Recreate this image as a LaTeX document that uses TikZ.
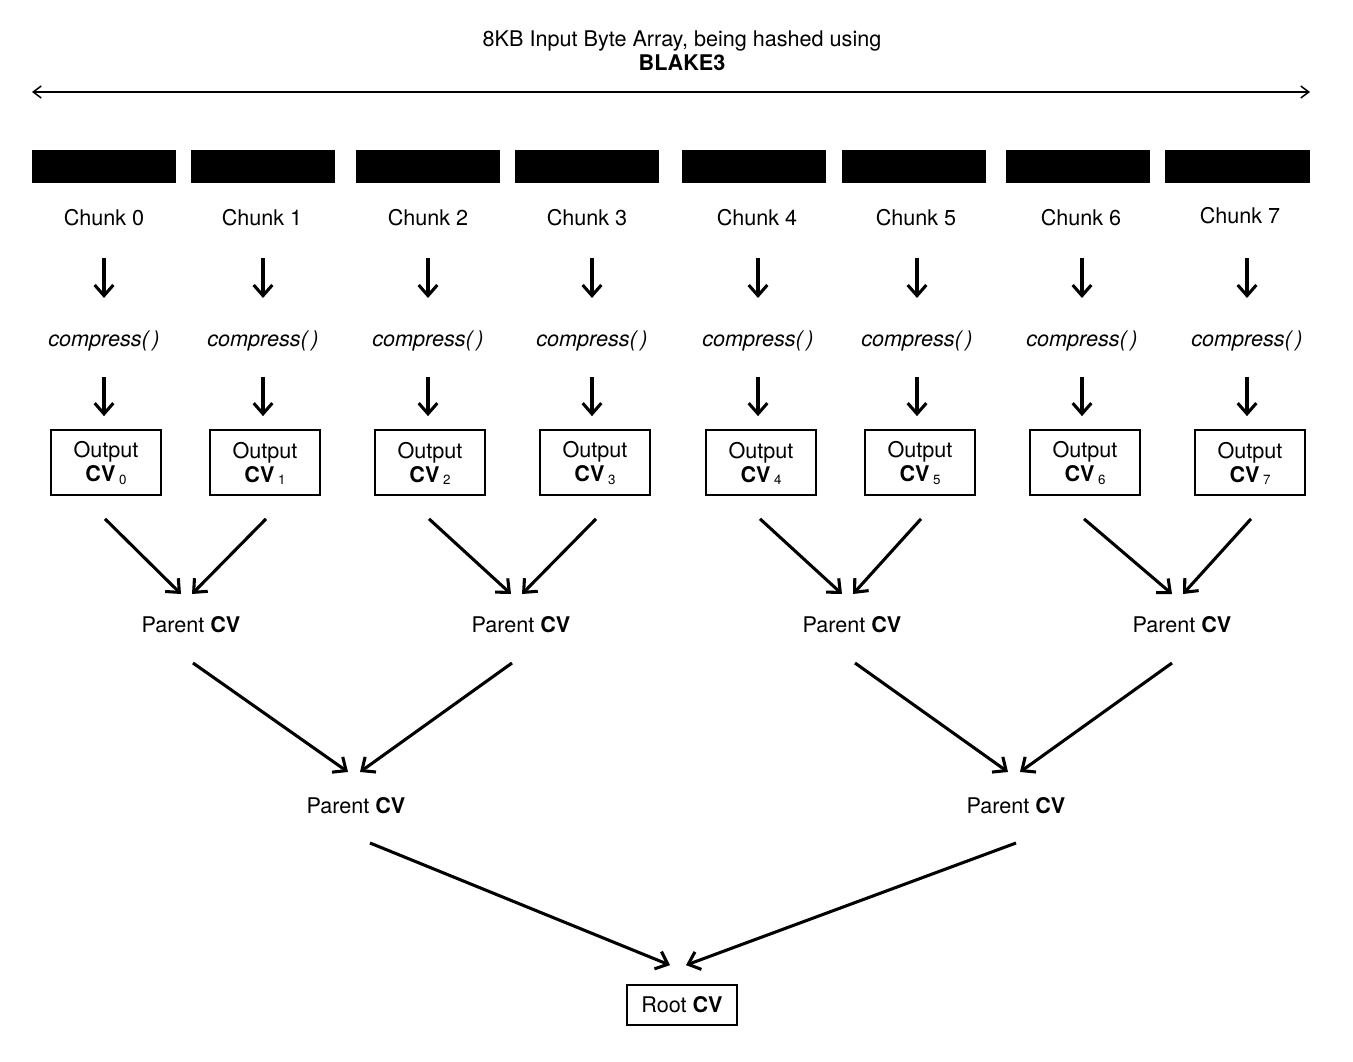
\documentclass[tikz,border=0pt]{standalone}
\usepackage{fontspec}
\setmainfont{TeX Gyre Heros}
\usepackage{tikz}
\usetikzlibrary{arrows.meta,calc}

\begin{document}
\begin{tikzpicture}[x=0.75pt,y=0.75pt,yscale=-1,xscale=1,
  font=\fontsize{16.2}{18}\selectfont,
  dn/.style={line width=2.3pt,-{Straight Barb[length=8pt,width=14pt]}},
  cvbox/.style={draw,line width=1.3pt,minimum width=82.5pt,minimum height=48.75pt,align=center,inner sep=0.75pt},
  lbl/.style={inner sep=0.75pt,align=center}]
\useasboundingbox (0,0) rectangle (1353,1062);

% Title
\node [lbl] (title) at (682,51) {8KB Input Byte Array, being hashed using\\\textbf{BLAKE3}};
\coordinate (lend) at (32,92);
\coordinate (rend) at (1310,92);
%Straight Lines
\draw [line width=1.1pt,{Straight Barb[length=6pt,width=9pt]}-{Straight Barb[length=6pt,width=9pt]}] (lend) -- (rend);

%Shape: Rectangles (chunks)
\fill (32,150) rectangle (176,183);
\fill (191,150) rectangle (335,183);
\fill (356,150) rectangle (500,183);
\fill (515,150) rectangle (659,183);
\fill (682,150) rectangle (826,183);
\fill (842,150) rectangle (986,183);
\fill (1006,150) rectangle (1150,183);
\fill (1165,150) rectangle (1310,183);

% Text Node
\node [lbl] (c0) at (104,218) {Chunk 0};
\node [lbl] (c1) at (262,218) {Chunk 1};
\node [lbl] (c2) at (428,218) {Chunk 2};
\node [lbl] (c3) at (587,218) {Chunk 3};
\node [lbl] (c4) at (757,218) {Chunk 4};
\node [lbl] (c5) at (916,218) {Chunk 5};
\node [lbl] (c6) at (1081,218) {Chunk 6};
\node [lbl] (c7) at (1240,216) {Chunk 7};

% Text Node
\node [lbl] (k0) at (104,341) {\itshape compress(\,)};
\node [lbl] (k1) at (263,341) {\itshape compress(\,)};
\node [lbl] (k2) at (428,341) {\itshape compress(\,)};
\node [lbl] (k3) at (592,341) {\itshape compress(\,)};
\node [lbl] (k4) at (758,341) {\itshape compress(\,)};
\node [lbl] (k5) at (917,341) {\itshape compress(\,)};
\node [lbl] (k6) at (1082,341) {\itshape compress(\,)};
\node [lbl] (k7) at (1247,341) {\itshape compress(\,)};

% Boxes
\node [cvbox] (o0) at (106,462.5) {\rule{0pt}{13pt}Output\\\textbf{CV}\,\raisebox{-1.7pt}{\fontsize{10}{11}\selectfont 0}};
\node [cvbox] (o1) at (265,462.5) {\rule{0pt}{13pt}Output\\\textbf{CV}\,\raisebox{-1.7pt}{\fontsize{10}{11}\selectfont 1}};
\node [cvbox] (o2) at (430,462.5) {\rule{0pt}{13pt}Output\\\textbf{CV}\,\raisebox{-1.7pt}{\fontsize{10}{11}\selectfont 2}};
\node [cvbox] (o3) at (595,462.5) {\rule{0pt}{13pt}Output\\\textbf{CV}\,\raisebox{-1.7pt}{\fontsize{10}{11}\selectfont 3}};
\node [cvbox] (o4) at (761,462.5) {\rule{0pt}{13pt}Output\\\textbf{CV}\,\raisebox{-1.7pt}{\fontsize{10}{11}\selectfont 4}};
\node [cvbox] (o5) at (920,462.5) {\rule{0pt}{13pt}Output\\\textbf{CV}\,\raisebox{-1.7pt}{\fontsize{10}{11}\selectfont 5}};
\node [cvbox] (o6) at (1085,462.5) {\rule{0pt}{13pt}Output\\\textbf{CV}\,\raisebox{-1.7pt}{\fontsize{10}{11}\selectfont 6}};
\node [cvbox] (o7) at (1250,462.5) {\rule{0pt}{13pt}Output\\\textbf{CV}\,\raisebox{-1.7pt}{\fontsize{10}{11}\selectfont 7}};

% Text Node
\node [lbl] (p0) at (191,625) {Parent \textbf{CV}};
\node [lbl] (p1) at (521,625) {Parent \textbf{CV}};
\node [lbl] (p2) at (852,625) {Parent \textbf{CV}};
\node [lbl] (p3) at (1182,625) {Parent \textbf{CV}};
\node [lbl] (q0) at (356,806) {Parent \textbf{CV}};
\node [lbl] (q1) at (1016,806) {Parent \textbf{CV}};
\node [draw,line width=1.3pt,minimum width=82.5pt,minimum height=30pt,inner sep=0.75pt] (root) at (682,1005) {Root \textbf{CV}};

%Straight Lines: chunk -> compress
\draw [dn] ($(k0|-c0)+(0,40)$) -- ($(k0)+(0,-43)$);
\draw [dn] ($(k1|-c1)+(0,40)$) -- ($(k1)+(0,-43)$);
\draw [dn] ($(k2|-c2)+(0,40)$) -- ($(k2)+(0,-43)$);
\draw [dn] ($(k3|-c3)+(0,40)$) -- ($(k3)+(0,-43)$);
\draw [dn] ($(k4|-c4)+(0,40)$) -- ($(k4)+(0,-43)$);
\draw [dn] ($(k5|-c5)+(0,40)$) -- ($(k5)+(0,-43)$);
\draw [dn] ($(k6|-c6)+(0,40)$) -- ($(k6)+(0,-43)$);
\draw [dn] ($(k7|-c7)+(0,42)$) -- ($(k7)+(0,-43)$);

%Straight Lines: compress -> output
\draw [dn] ($(k0)+(0,36)$) -- ($(k0|-o0.north)+(0,-13)$);
\draw [dn] ($(k1)+(0,36)$) -- ($(k1|-o1.north)+(0,-13)$);
\draw [dn] ($(k2)+(0,36)$) -- ($(k2|-o2.north)+(0,-13)$);
\draw [dn] ($(k3)+(0,36)$) -- ($(k3|-o3.north)+(0,-13)$);
\draw [dn] ($(k4)+(0,36)$) -- ($(k4|-o4.north)+(0,-13)$);
\draw [dn] ($(k5)+(0,36)$) -- ($(k5|-o5.north)+(0,-13)$);
\draw [dn] ($(k6)+(0,36)$) -- ($(k6|-o6.north)+(0,-13)$);
\draw [dn] ($(k7)+(0,36)$) -- ($(k7|-o7.north)+(0,-13)$);

%Straight Lines: output -> parent
\draw [dn] ($(o0.south)+(-1,23)$) -- ($(p0)+(-10,-31)$);
\draw [dn] ($(o1.south)+(1,23)$) -- ($(p0)+(1,-31)$);
\draw [dn] ($(o2.south)+(-1,23)$) -- ($(p1)+(-10,-31)$);
\draw [dn] ($(o3.south)+(1,23)$) -- ($(p1)+(1,-31)$);
\draw [dn] ($(o4.south)+(-1,23)$) -- ($(p2)+(-10,-31)$);
\draw [dn] ($(o5.south)+(1,23)$) -- ($(p2)+(1,-31)$);
\draw [dn] ($(o6.south)+(-1,23)$) -- ($(p3)+(-10,-31)$);
\draw [dn] ($(o7.south)+(1,23)$) -- ($(p3)+(1,-31)$);

%Straight Lines: parent -> parent
\draw [dn] ($(p0)+(2,38)$) -- ($(q0)+(-8,-34)$);
\draw [dn] ($(p1)+(-9,38)$) -- ($(q0)+(4,-34)$);
\draw [dn] ($(p2)+(3,38)$) -- ($(q1)+(-8,-34)$);
\draw [dn] ($(p3)+(-10,38)$) -- ($(q1)+(4,-34)$);

%Straight Lines: parent -> root
\draw [dn] ($(q0)+(14,37)$) -- ($(root.north)+(-12,-19)$);
\draw [dn] ($(q1)+(0,37)$) -- ($(root.north)+(4,-19)$);

\end{tikzpicture}
\end{document}
